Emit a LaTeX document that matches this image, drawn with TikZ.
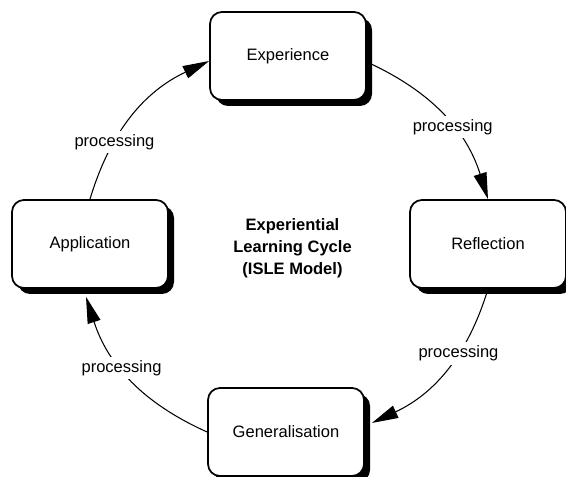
\documentclass[tikz,border=0pt]{standalone}
\usepackage{fontspec}
\setmainfont{Liberation Sans}
\usetikzlibrary{arrows.meta,shadows,backgrounds}

\begin{document}
\begin{tikzpicture}[font=\fontsize{9.4}{12.5}\selectfont]

    \useasboundingbox (0,0) rectangle (11.32,9.54);
    \tikzset{VertexStyle/.style = {draw, line width=1pt, rounded corners=0.24cm, fill=white,
        minimum width=3.12cm, minimum height=1.76cm,
        drop shadow={shadow xshift=0.12cm, shadow yshift=-0.12cm, fill=black, opacity=1}}}
    \tikzset{EdgeStyle/.style = {line width=0.6pt, -{Triangle[length=15pt,width=7.5pt]}, bend left=24}}
    \tikzset{LabelStyle/.style = {fill=white, inner sep=2pt}}

    \node[VertexStyle] (Exp) at (5.76,8.42) {Experience};
    \node[VertexStyle] (Ref) at (9.76,4.66) {Reflection};
    \node[VertexStyle] (Gen) at (5.72,0.90) {Generalisation};
    \node[VertexStyle] (App) at (1.80,4.66) {Application};
    \node[align=center, font=\fontsize{9.4}{12.5}\selectfont\bfseries] (Title) at (5.85,4.58)
        {Experiential\\Learning Cycle\\(ISLE Model)};

    \begin{scope}[on background layer]
    \draw[EdgeStyle] (App.north) to node[LabelStyle, pos=0.32] {processing} ([yshift=-0.1cm]Exp.west);
    \draw[EdgeStyle] ([yshift=-0.12cm]Exp.east) to node[LabelStyle, pos=0.58] {processing} (Ref.north);
    \draw[EdgeStyle] (Ref.south) to node[LabelStyle, pos=0.38] {processing} ([shift={(0.14,0.18)}]Gen.east);
    \draw[EdgeStyle] (Gen.west) to node[LabelStyle, pos=0.58] {processing} ([shift={(-0.08,-0.16)}]App.south);
    % \tikzset{EdgeStyle/.append style = {bend right}}
    \end{scope}

\end{tikzpicture}
\end{document}
